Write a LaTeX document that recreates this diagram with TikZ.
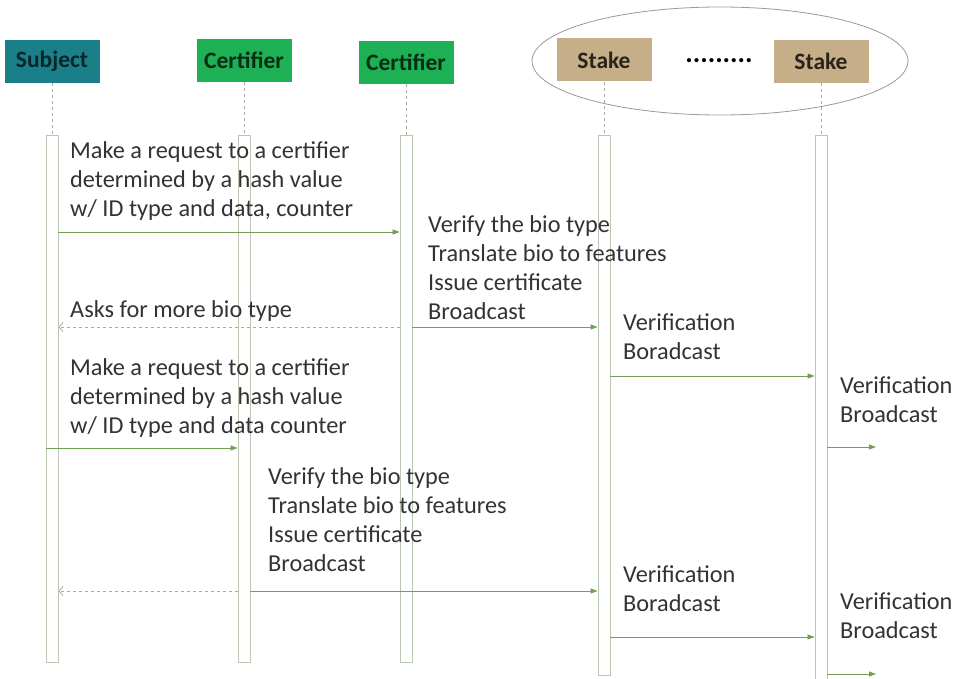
\documentclass[tikz,border=0pt]{standalone}
\usepackage{fontspec}
\setmainfont{Carlito}
\usetikzlibrary{arrows.meta}
\definecolor{subjteal}{HTML}{1A7F88}
\definecolor{certgreen}{HTML}{1DB055}
\definecolor{staketan}{HTML}{C6AE88}
\definecolor{msggreen}{HTML}{6FA055}
\definecolor{actedge}{HTML}{B9C7B3}
\definecolor{lifegray}{HTML}{A8A8A8}
\definecolor{txt}{HTML}{333333}
\tikzset{
  header/.style={minimum width=95pt, minimum height=43pt, inner sep=0pt,
    font=\fontsize{23.5}{26}\selectfont\bfseries},
  actbox/.style={draw=actedge, line width=0.9pt, fill=white, minimum width=12pt,
    inner sep=0pt, anchor=north},
  lifeline/.style={draw=lifegray, dashed, line width=0.6pt},
  msg/.style={draw=msggreen, line width=0.8pt, -{Triangle[length=7pt,width=5pt]}},
  reply/.style={draw=lifegray, dashed, line width=0.8pt, -{Straight Barb[length=4pt,width=9pt]}},
  note/.style={anchor=west, align=left, inner sep=0pt, text=txt,
    font=\fontsize{24.3}{29}\selectfont}
}
\begin{document}
\begin{tikzpicture}[x=1pt,y=-1pt]
\useasboundingbox (0,0) rectangle (954,679);
\fill[white] (0,0) rectangle (954,679);

% participants
\node[header, fill=subjteal, text=black!70!subjteal] (subj) at (52,61.5) {Subject};
\node[header, fill=certgreen, text=black!75!certgreen] (certA) at (244,60.5) {Certifier};
\node[header, fill=certgreen, text=black!75!certgreen] (certB) at (406,62.5) {Certifier};
\node[header, fill=staketan, text=black!80!staketan] (stakeA) at (604,60) {Stake};
\node[header, fill=staketan, text=black!80!staketan] (stakeB) at (821,61.5) {Stake};
\node[font=\fontsize{28}{30}\selectfont\bfseries, inner sep=0pt] (dots) at (719,61) {.........};
\draw[gray!80, line width=0.8pt] (720,61) ellipse [x radius=188, y radius=54];

% activation bars
\node[actbox, minimum height=527pt] (aS) at (52,135) {};
\node[actbox, minimum height=527pt] (aCA) at (244,135) {};
\node[actbox, minimum height=527pt] (aCB) at (406,135) {};
\node[actbox, minimum height=540pt] (aKA) at (604,135) {};
\node[actbox, minimum height=560pt] (aKB) at (821,135) {};

% lifelines
\draw[lifeline] (subj) -- (aS);
\draw[lifeline] (certA) -- (aCA);
\draw[lifeline] (certB) -- (aCB);
\draw[lifeline] (stakeA) -- (aKA);
\draw[lifeline] (stakeB) -- (aKB);

% message rows
\coordinate (r1) at (0,232);
\coordinate (r2) at (0,327);
\coordinate (r3) at (0,376);
\coordinate (r4) at (0,447);
\coordinate (r5) at (0,448);
\coordinate (r6) at (0,591);
\coordinate (r7) at (0,637);
\coordinate (r8) at (0,674);
\coordinate (outA) at (876,447);
\coordinate (outB) at (876,674);

% first round
\node[note] (t1) at (70,181.5) {Make a request to a certifier\\determined by a hash value\\w/ ID type and data, counter};
\draw[msg] (aS.east |- r1) -- (aCB.west |- r1);
\node[note] (t2) at (428,267.5) {Verify the bio type\\Translate bio to features\\Issue certificate\\Broadcast};
\node[note] (t3) at (70,311) {Asks for more bio type};
\draw[reply] (aCB.west |- r2) -- (aS.east |- r2);
\draw[msg] (aCB.east |- r2) -- (aKA.west |- r2);
\node[note] (t4) at (623,336.5) {Verification\\Boradcast};
\draw[msg] (aKA.east |- r3) -- (aKB.west |- r3);
\node[note] (t5) at (840,399.5) {Verification\\Broadcast};
\draw[msg] (aKB.east |- r4) -- (outA);

% second round
\node[note] (t6) at (70,398.5) {Make a request to a certifier\\determined by a hash value\\w/ ID type and data counter};
\draw[msg] (aS.west |- r5) -- (aCA.west |- r5);
\node[note] (t7) at (268,520) {Verify the bio type\\Translate bio to features\\Issue certificate\\Broadcast};
\draw[reply] (aCA.west |- r6) -- (aS.east |- r6);
\draw[msg] (aCA.east |- r6) -- (aKA.west |- r6);
\node[note] (t8) at (623,589) {Verification\\Boradcast};
\draw[msg] (aKA.east |- r7) -- (aKB.west |- r7);
\node[note] (t9) at (840,615.5) {Verification\\Broadcast};
\draw[msg] (aKB.east |- r8) -- (outB);
\end{tikzpicture}
\end{document}
